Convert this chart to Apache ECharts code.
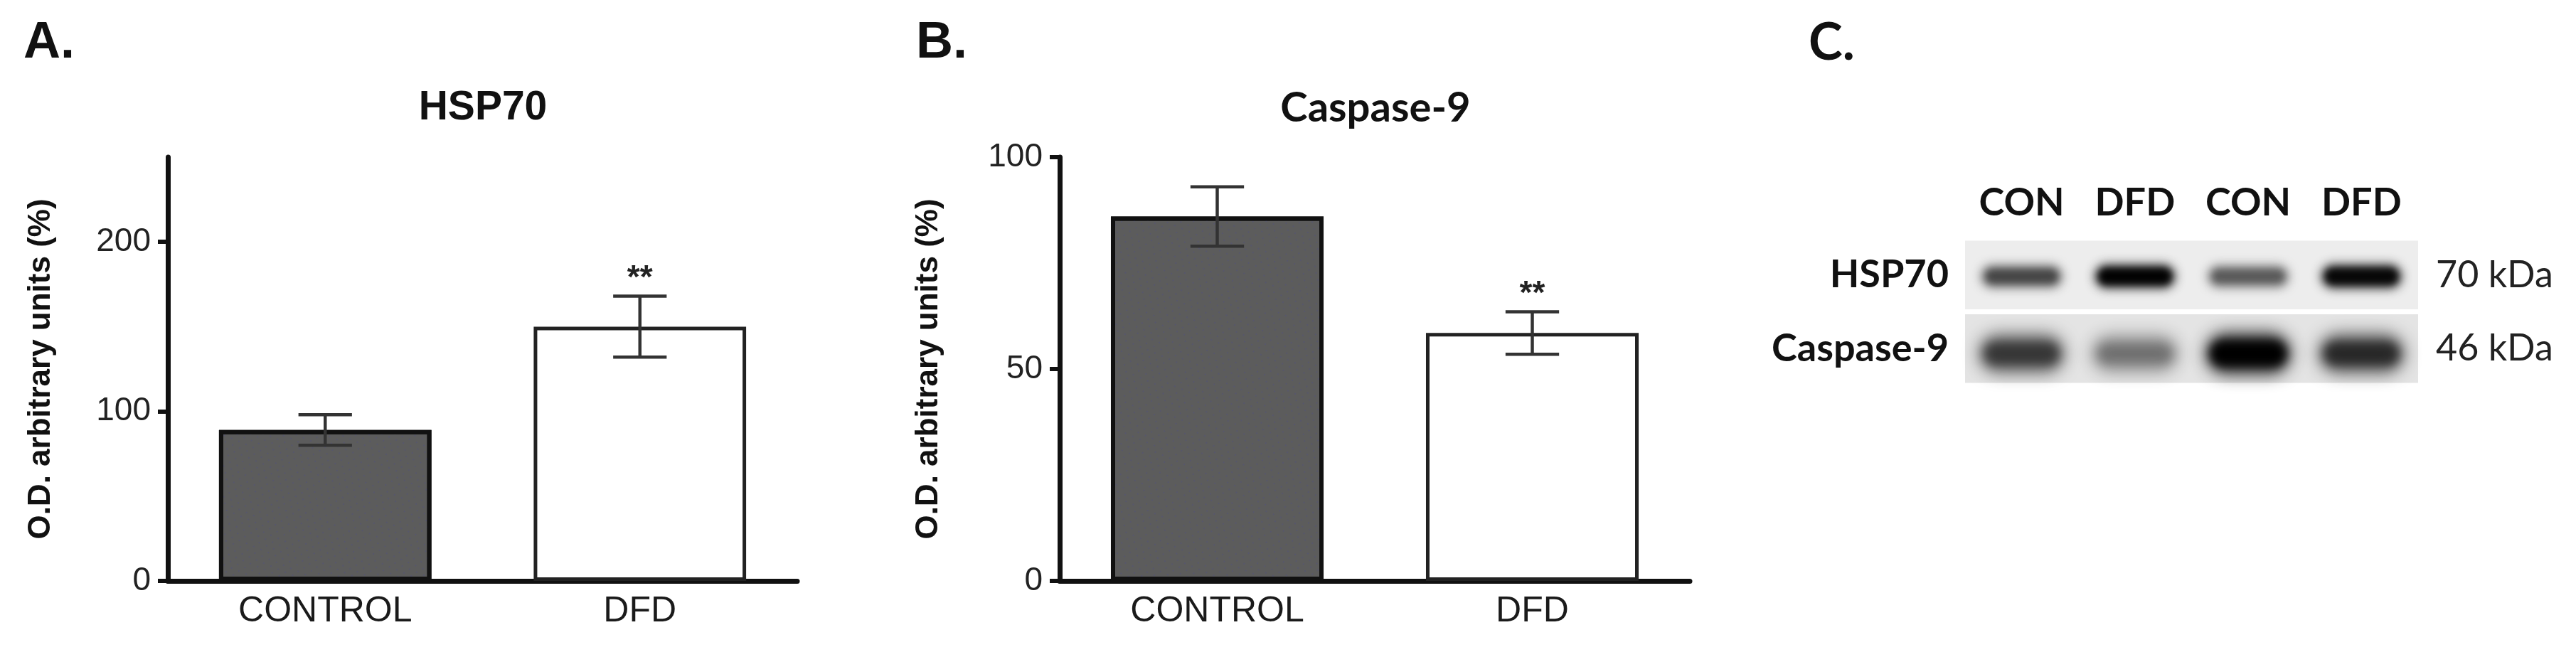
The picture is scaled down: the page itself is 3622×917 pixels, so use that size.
<!DOCTYPE html>
<html><head><meta charset="utf-8">
<script src="https://cdn.jsdelivr.net/npm/echarts@6/dist/echarts.min.js"></script>
<style>html,body{margin:0;padding:0;background:#fff}#c{width:3622px;height:917px}</style>
</head><body><div id="c"></div>
<script>
// ---- data ----
const groups = ['CONTROL', 'DFD'];
const hspMean = [89, 150];
const hspSem = [9, 18];
const hspSig = ['', '**'];
const caspMean = [86, 58.5];
const caspSem = [7, 5];
const caspSig = ['', '**'];
const hspTicks = [0, 100, 200];
const caspTicks = [0, 50, 100];
const blotLanes = ['CON', 'DFD', 'CON', 'DFD'];
const blotProteins = ['HSP70', 'Caspase-9'];
const blotMW = ['70 kDa', '46 kDa'];
const hspBand = [0.66, 0.96, 0.58, 0.93];
const caspBand = [0.72, 0.45, 1.0, 0.78];
const panelLetters = ['A.', 'B.', 'C.'];
const chartTitles = ['HSP70', 'Caspase-9'];
const yName = 'O.D. arbitrary units (%)';

// ---- styles ----
const ARIAL = '"Liberation Sans", Arial, sans-serif';
const CAL = 'Lato, "Open Sans", sans-serif';
const INK = '#111';

const ctrlStyle = {
  color: '#5c5c5c', borderColor: '#111', borderWidth: 6,
  decal: {symbol: 'circle', symbolSize: 0.8, color: 'rgba(70,70,160,0.5)',
          dashArrayX: [[2, 9], [0, 5, 2, 4]], dashArrayY: [2, 6], rotation: 0.4}
};
const dfdStyle = {color: '#ffffff', borderColor: '#222', borderWidth: 5};

function barData(means) {
  return means.map((v, i) => ({value: v, itemStyle: i === 0 ? ctrlStyle : dfdStyle}));
}

function errRender(sig) {
  return function (params, api) {
    const i = api.value(0), v = api.value(1), e = api.value(2);
    const hi = api.coord([i, v + e]), lo = api.coord([i, v - e]);
    const half = api.size([1, 0])[0] * 0.085;
    const st = {stroke: '#333', lineWidth: 4.5};
    const children = [
      {type: 'line', shape: {x1: hi[0], y1: hi[1], x2: lo[0], y2: lo[1]}, style: st},
      {type: 'line', shape: {x1: hi[0] - half, y1: hi[1], x2: hi[0] + half, y2: hi[1]}, style: st},
      {type: 'line', shape: {x1: lo[0] - half, y1: lo[1], x2: lo[0] + half, y2: lo[1]}, style: st}
    ];
    if (sig[i]) {
      children.push({type: 'text', style: {text: sig[i], x: hi[0], y: hi[1] - 24,
        textAlign: 'center', textVerticalAlign: 'middle', fontSize: 46,
        fontFamily: ARIAL, fontWeight: 'bold', fill: '#222'}});
    }
    return {type: 'group', children: children};
  };
}

function valueAxis(grid, max, interval, ticks, gap) {
  return {
    gridIndex: grid, type: 'value', min: 0, max: max, interval: interval,
    splitLine: {show: false},
    axisLine: {show: true, lineStyle: {color: INK, width: 7}},
    axisTick: {show: true, length: 14, customValues: ticks, lineStyle: {color: INK, width: 6}},
    axisLabel: {customValues: ticks, margin: 24, fontSize: 46, fontFamily: ARIAL, color: '#222'},
    name: yName, nameLocation: 'middle', nameGap: gap,
    nameTextStyle: {fontSize: 44, fontWeight: 'bold', fontFamily: ARIAL, color: '#111'}
  };
}
function catAxis(grid) {
  return {
    gridIndex: grid, type: 'category', data: groups,
    axisLine: {lineStyle: {color: INK, width: 7}},
    axisTick: {alignWithLabel: true, length: 13, lineStyle: {color: INK, width: 6}},
    axisLabel: {margin: 18, fontSize: 50, fontFamily: ARIAL, color: '#1a1a1a'}
  };
}

const bandData = [];
blotLanes.forEach((l, j) => {
  bandData.push([j, 0, hspBand[j]]);
  bandData.push([j, 1, caspBand[j]]);
});

// blurred blob: the shape is drawn far off-canvas and only its shadow lands in place
const OFF = 6000;
function blob(x, y, w, h, color, blur) {
  return {type: 'rect', shape: {x: x - OFF, y: y, width: w, height: h, r: h / 2},
          style: {fill: color, shadowColor: color, shadowBlur: blur, shadowOffsetX: OFF}};
}

const option = {
  animation: false,
  backgroundColor: '#fff',
  grid: [
    {left: 236, top: 221, width: 885, height: 596},
    {left: 1490, top: 221, width: 886, height: 596},
    {left: 2763, top: 335, width: 637, height: 207}
  ],
  xAxis: [
    catAxis(0), catAxis(1),
    {gridIndex: 2, type: 'category', data: blotLanes, position: 'top',
     axisLine: {show: false}, axisTick: {show: false},
     axisLabel: {margin: 22, fontSize: 54, fontWeight: 'bold', fontFamily: CAL, color: INK}}
  ],
  yAxis: [
    valueAxis(0, 250, 100, hspTicks, 156),
    valueAxis(1, 100, 50, caspTicks, 162),
    {gridIndex: 2, type: 'category', data: blotProteins, inverse: true,
     axisLine: {show: false}, axisTick: {show: false},
     axisLabel: {margin: 23, fontSize: 54, fontWeight: 'bold', fontFamily: CAL, color: INK}},
    {gridIndex: 2, type: 'category', data: blotMW, inverse: true, position: 'right',
     axisLine: {show: false}, axisTick: {show: false},
     axisLabel: {margin: 25, fontSize: 52, fontFamily: CAL, color: '#222'}}
  ],
  series: [
    {type: 'bar', xAxisIndex: 0, yAxisIndex: 0, data: barData(hspMean), barWidth: '67.5%'},
    {type: 'custom', xAxisIndex: 0, yAxisIndex: 0, z: 5,
     data: hspMean.map((v, i) => [i, v, hspSem[i]]), renderItem: errRender(hspSig)},
    {type: 'bar', xAxisIndex: 1, yAxisIndex: 1, data: barData(caspMean), barWidth: '67.5%'},
    {type: 'custom', xAxisIndex: 1, yAxisIndex: 1, z: 5,
     data: caspMean.map((v, i) => [i, v, caspSem[i]]), renderItem: errRender(caspSig)},
    {type: 'custom', xAxisIndex: 2, yAxisIndex: 2, z: 1,
     data: blotProteins.map((p, i) => [0, i]),
     renderItem: function (params, api) {
       const c = api.coord([0, api.value(1)]);
       const s = api.size([1, 1]);
       const h = s[1] * 0.93;
       return {type: 'rect', shape: {x: c[0] - s[0] / 2, y: c[1] - h / 2, width: s[0] * blotLanes.length, height: h},
               style: {fill: api.value(1) === 0 ? '#ededed' : '#e4e4e4'}};
     }},
    {type: 'custom', xAxisIndex: 2, yAxisIndex: 2, z: 2,
     data: bandData,
     renderItem: function (params, api) {
       const row = api.value(1), a = api.value(2);
       const c = api.coord([api.value(0), row]);
       const s = api.size([1, 1]);
       const cy = c[1] + (row === 1 ? 7 : 2);
       const w = s[0] * (row === 0 ? 0.72 : 0.76);
       const hHalo = row === 0 ? 26 + 10 * a : 44 + 16 * a;
       const hCore = row === 0 ? 14 + 8 * a : 20 + 16 * a;
       const halo = 'rgba(40,40,40,' + Math.min(1, 0.45 + 0.5 * a).toFixed(2) + ')';
       const core = 'rgba(0,0,0,' + Math.min(1, 0.3 + 0.75 * a * a).toFixed(2) + ')';
       return {type: 'group', children: [
         blob(c[0] - w / 2, cy - hHalo / 2, w, hHalo, halo, row === 0 ? 14 : 22),
         blob(c[0] - w * 0.44, cy - hCore / 2, w * 0.88, hCore, core, row === 0 ? 10 : 14)
       ]};
     }}
  ],
  graphic: [
    {type: 'text', x: 33, y: 61, style: {text: panelLetters[0], fontSize: 72, fontWeight: 'bold', fontFamily: ARIAL, fill: INK, textVerticalAlign: 'middle'}},
    {type: 'text', x: 1288, y: 61, style: {text: panelLetters[1], fontSize: 72, fontWeight: 'bold', fontFamily: ARIAL, fill: INK, textVerticalAlign: 'middle'}},
    {type: 'text', x: 2543, y: 61, style: {text: panelLetters[2], fontSize: 72, fontWeight: 'bold', fontFamily: CAL, fill: INK, textVerticalAlign: 'middle'}},
    {type: 'text', x: 679, y: 152, style: {text: chartTitles[0], fontSize: 57, fontWeight: 'bold', fontFamily: ARIAL, fill: INK, textAlign: 'center', textVerticalAlign: 'middle'}},
    {type: 'text', x: 1934, y: 152, style: {text: chartTitles[1], fontSize: 58, fontWeight: 'bold', fontFamily: CAL, fill: INK, textAlign: 'center', textVerticalAlign: 'middle'}}
  ]
};
const chart = echarts.init(document.getElementById('c'), null, {renderer: 'canvas'});
chart.setOption(option);
</script>
</body></html>
